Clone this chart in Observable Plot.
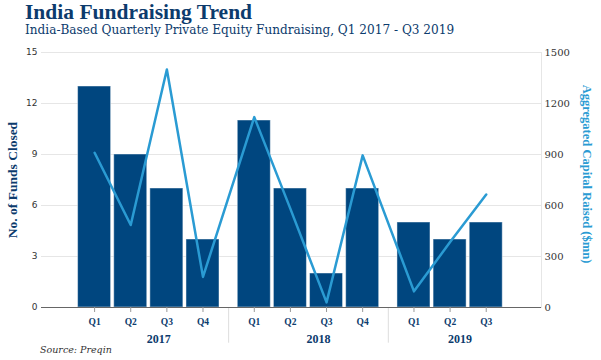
<!DOCTYPE html>
<html>
<head>
<meta charset="utf-8">
<script src="https://cdn.jsdelivr.net/npm/d3@7"></script>
<script src="https://cdn.jsdelivr.net/npm/@observablehq/plot@0.6"></script>
<style>
  html, body { margin: 0; padding: 0; background: #fff; }
  #wrap { position: relative; width: 601px; height: 360px; overflow: hidden; }
  #title { position: absolute; left: 25px; top: 0px; font: bold 21.5px "Liberation Serif", serif; line-height: 24px; color: #0c3b6d; white-space: nowrap; }
  #subtitle { position: absolute; left: 25px; top: 23px; font: 12.1px "DejaVu Serif", serif; line-height: 15px; color: #0c3b6d; white-space: nowrap; }
  #chart { position: absolute; left: 0; top: 44px; }
  #source { position: absolute; left: 40px; top: 344px; font: italic 9.5px "DejaVu Serif", serif; line-height: 12px; color: #333; white-space: nowrap; }
</style>
</head>
<body>
<div id="wrap">
  <div id="title">India Fundraising Trend</div>
  <div id="subtitle">India-Based Quarterly Private Equity Fundraising, Q1 2017 - Q3 2019</div>
  <div id="chart"></div>
  <div id="source">Source: Preqin</div>
</div>
<script>
const years = ["2017", "2018", "2019"];
const quarters = ["Q1", "Q2", "Q3", "Q4", "Q1", "Q2", "Q3", "Q4", "Q1", "Q2", "Q3"];
const quarterYears = ["2017", "2017", "2017", "2017", "2018", "2018", "2018", "2018", "2019", "2019", "2019"];
const fundsClosed = [13, 9, 7, 4, 11, 7, 2, 7, 5, 4, 5];
const capitalRaised = [910, 485, 1400, 180, 1120, 580, 30, 895, 95, 385, 665];
const leftTicks = [0, 3, 6, 9, 12, 15];
const rightTicks = [0, 300, 600, 900, 1200, 1500];
const leftLabel = "No. of Funds Closed";
const rightLabel = "Aggregated Capital Raised ($mn)";

const ratio = rightTicks[rightTicks.length - 1] / leftTicks[leftTicks.length - 1];
const groupGap = 0.42;   // extra spacing between year groups, in bar slots
const halfBar = 0.457;   // half bar width, in bar slots

const rows = quarters.map((q, i) => {
  const g = years.indexOf(quarterYears[i]);
  return { quarter: q, year: quarterYears[i], pos: i + g * groupGap, funds: fundsClosed[i], capital: capitalRaised[i] };
});
const labelByPos = new Map(rows.map(d => [d.pos, d.quarter]));
const yearRows = years.map(y => {
  const ps = rows.filter(d => d.year === y).map(d => d.pos);
  return { year: y, mid: d3.mean(ps), first: d3.min(ps), last: d3.max(ps) };
});
const separators = yearRows.slice(1).map((y, i) => (yearRows[i].last + y.first) / 2);

const xMin = rows[0].pos - 1.47;
const xMax = rows[rows.length - 1].pos + 1.53;

const plot = Plot.plot({
  width: 601,
  height: 316,
  marginLeft: 41,
  marginRight: 60,
  marginTop: 8,
  marginBottom: 53,
  x: { domain: [xMin, xMax] },
  y: { domain: [0, 15] },
  style: { background: "transparent", overflow: "visible" },
  marks: [
    Plot.gridY(leftTicks.filter(d => d > 0), { stroke: "#e6e6e6", strokeOpacity: 1 }),
    Plot.frame({ anchor: "right", stroke: "#e6e6e6" }),
    Plot.rectY(rows, {
      x1: d => d.pos - halfBar, x2: d => d.pos + halfBar, y: "funds",
      fill: "#00467f", stroke: "#ffffff", strokeOpacity: 0.45, strokeWidth: 1
    }),
    Plot.ruleX(separators, { y1: 0, y2: -2.1, stroke: "#dddddd" }),
    Plot.line(rows, { x: "pos", y: d => d.capital / ratio, stroke: "#2a9bd3", strokeWidth: 2.5 }),
    Plot.ruleY([0], { stroke: "#666666" }),
    Plot.axisY(leftTicks, {
      anchor: "left", tickSize: 0, tickPadding: 4, label: null,
      fontSize: 9, fontFamily: "DejaVu Sans", fill: "#333"
    }),
    Plot.axisY(rightTicks.map(v => v / ratio), {
      anchor: "right", tickSize: 0, tickPadding: 3, label: null,
      tickFormat: d => String(Math.round(d * ratio)),
      fontSize: 10, fontFamily: "DejaVu Serif", fill: "#333"
    }),
    Plot.axisX(rows.map(d => d.pos), {
      anchor: "bottom", tickSize: 5, tickPadding: 6, label: null,
      tickFormat: d => labelByPos.get(d), stroke: "#999",
      fontSize: 9.5, fontFamily: "Liberation Serif", fontWeight: "bold", fill: "#0c3b6d"
    }),
    Plot.text(yearRows, {
      x: "mid", y: 0, text: "year", dy: 32, dx: 10,
      fontSize: 12, fontFamily: "Liberation Serif", fontWeight: "bold", fill: "#0c3b6d"
    }),
    Plot.text([leftLabel], {
      frameAnchor: "left", textAnchor: "middle", text: d => d, rotate: -90, dx: -29,
      fontSize: 13.5, fontFamily: "Liberation Serif", fontWeight: "bold", fill: "#0c3b6d"
    }),
    Plot.text([rightLabel], {
      frameAnchor: "right", textAnchor: "middle", text: d => d, rotate: 90, dx: 45, dy: -6,
      fontSize: 12.5, fontFamily: "Liberation Serif", fontWeight: "bold", fill: "#2a9bd3"
    })
  ]
});
document.getElementById("chart").appendChild(plot);
</script>
</body>
</html>
